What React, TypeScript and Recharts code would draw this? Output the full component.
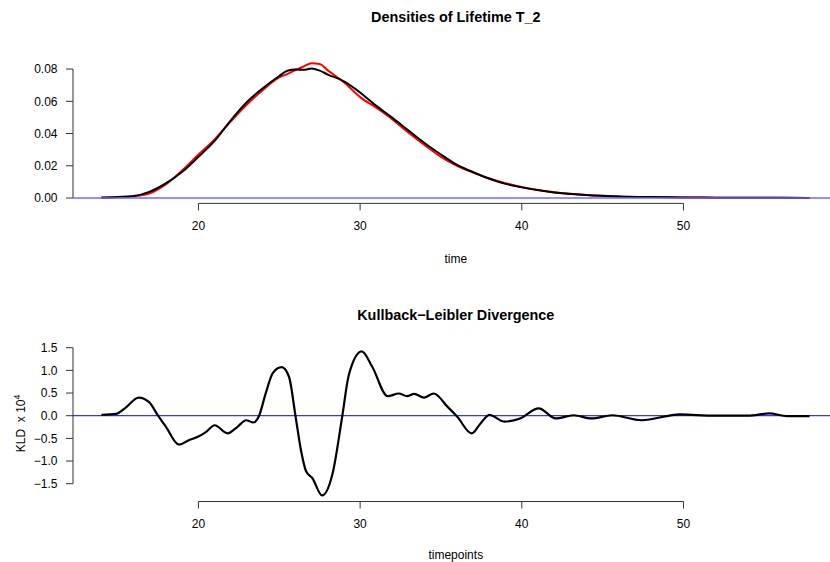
import React from 'react';
import { Line, LineChart, ReferenceLine, XAxis, YAxis } from 'recharts';

// density panel
const timeGrid = [14, 15, 16, 17, 18, 19, 20, 21, 22, 23, 24, 25, 25.5, 26, 26.5, 27, 27.5, 28, 29, 30, 31, 32, 33, 34, 35, 36, 37, 38, 39, 40, 42, 44, 46, 48, 50, 52, 54, 56, 57.8];
const redDensity = [0.0002, 0.0005, 0.0011, 0.003, 0.0086, 0.0172, 0.027, 0.0364, 0.0476, 0.058, 0.0672, 0.0748, 0.0769, 0.0794, 0.0816, 0.0836, 0.0832, 0.0792, 0.0718, 0.0626, 0.056, 0.0488, 0.0405, 0.0328, 0.0255, 0.02, 0.0158, 0.0121, 0.0092, 0.0068, 0.0036, 0.0019, 0.001, 0.0006, 0.0004, 0.0002, 0.0001, 0.0001, 0.0];
const blackDensity = [0.0003, 0.0007, 0.0013, 0.004, 0.0092, 0.0163, 0.0256, 0.0354, 0.0482, 0.0596, 0.0683, 0.0757, 0.079, 0.0797, 0.0795, 0.0803, 0.079, 0.0766, 0.0724, 0.0655, 0.0572, 0.0497, 0.0418, 0.034, 0.027, 0.0205, 0.016, 0.012, 0.0088, 0.0066, 0.0035, 0.0019, 0.001, 0.0006, 0.0004, 0.0002, 0.0001, 0.0001, 0.0];
const densityTicks = [0, 0.02, 0.04, 0.06, 0.08];

// KLD panel
const kldTime = [14, 14.9, 15.5, 16.3, 16.95, 17.5, 18, 18.8, 19.4, 20, 20.5, 21, 21.8, 22.4, 22.95, 23.4, 23.75, 24.15, 24.6, 25.15, 25.6, 26, 26.35, 26.65, 27.05, 27.65, 28.3, 28.9, 29.3, 30.1, 30.75, 31.7, 32.4, 32.9, 33.35, 33.95, 34.55, 35.4, 36, 36.9, 37.45, 38, 38.9, 39.9, 41.05, 42.1, 43.2, 44.3, 45.6, 47.4, 49.8, 51.9, 54, 55.3, 56.4, 57.8];
const kldValues = [0.02, 0.04, 0.18, 0.4, 0.3, 0.0, -0.25, -0.64, -0.54, -0.46, -0.35, -0.21, -0.39, -0.25, -0.1, -0.15, 0.0, 0.48, 0.94, 1.07, 0.86, 0.0, -0.78, -1.22, -1.38, -1.76, -1.27, 0.0, 0.9, 1.42, 1.08, 0.43, 0.49, 0.43, 0.48, 0.4, 0.49, 0.2, -0.02, -0.39, -0.17, 0.02, -0.13, -0.06, 0.16, -0.06, 0.01, -0.06, 0.01, -0.1, 0.03, 0.0, 0.0, 0.05, -0.01, -0.01];
const kldTicks = [-1.5, -1, -0.5, 0, 0.5, 1, 1.5];

const xTicks = [20, 30, 40, 50];
const xDomain: [number, number] = [12.24, 59.56];
const densDomain: [number, number] = [-0.00333, 0.08667];
const kldDomain: [number, number] = [-1.893, 1.558];

const densityData = timeGrid.map((t, i) => ({ t, red: redDensity[i], black: blackDensity[i] }));
const kldData = kldTime.map((t, i) => ({ t, kld: kldValues[i] }));

const FONT = 'Liberation Sans, Arial, Helvetica, sans-serif';
const tick = { fill: '#000', fontSize: 12, fontFamily: FONT };
const W = 845;
const H = 281;

const App = () => {
    return (
        <div style={{ position: 'absolute', left: 0, top: 0, width: 830, height: 562, overflow: 'hidden', background: '#fff' }}>
            <LineChart width={W} height={H} data={densityData} margin={{ top: 58.3, right: 7, bottom: 47.6, left: 0 }}>
                <XAxis type="number" dataKey="t" domain={xDomain} ticks={xTicks} allowDataOverflow axisLine={false}
                    tickSize={7} tickMargin={11} height={30} tick={tick} tickLine={{ stroke: '#333' }} />
                <YAxis type="number" domain={densDomain} ticks={densityTicks} allowDataOverflow axisLine={false} width={73}
                    tickSize={7} tickMargin={8.5} tick={tick} tickLine={{ stroke: '#333' }} tickFormatter={(v: number) => v.toFixed(2)} />
                <ReferenceLine segment={[{ x: 20, y: densDomain[0] }, { x: 50, y: densDomain[0] }]} stroke="#333" ifOverflow="visible" />
                <ReferenceLine segment={[{ x: xDomain[0], y: 0 }, { x: xDomain[0], y: 0.08 }]} stroke="#333" ifOverflow="visible" />
                <Line type="monotone" dataKey="red" stroke="#ff0000" strokeWidth={2} dot={false} isAnimationActive={false} />
                <Line type="monotone" dataKey="black" stroke="#000" strokeWidth={2} dot={false} isAnimationActive={false} />
                <ReferenceLine y={0} stroke="#6a6aff" strokeWidth={1.5} />
                <text x={455.8} y={21.7} textAnchor="middle" fontFamily={FONT} fontWeight="bold" fontSize={14.4} fill="#000">Densities of Lifetime T_2</text>
                <text x={455.8} y={263} textAnchor="middle" fontFamily={FONT} fontSize={12} fill="#000">time</text>
            </LineChart>
            <LineChart width={W} height={H} data={kldData} margin={{ top: 64.1, right: 7, bottom: 30.5, left: 0 }}>
                <XAxis type="number" dataKey="t" domain={xDomain} ticks={xTicks} allowDataOverflow axisLine={false}
                    tickSize={7} tickMargin={11} height={30} tick={tick} tickLine={{ stroke: '#333' }} />
                <YAxis type="number" domain={kldDomain} ticks={kldTicks} allowDataOverflow axisLine={false} width={73}
                    tickSize={7} tickMargin={8.5} tick={tick} tickLine={{ stroke: '#333' }}
                    tickFormatter={(v: number) => v.toFixed(1).replace('-', '\u2212')} />
                <ReferenceLine segment={[{ x: 20, y: kldDomain[0] }, { x: 50, y: kldDomain[0] }]} stroke="#333" ifOverflow="visible" />
                <ReferenceLine segment={[{ x: xDomain[0], y: -1.5 }, { x: xDomain[0], y: 1.5 }]} stroke="#333" ifOverflow="visible" />
                <ReferenceLine y={0} stroke="#0000ee" strokeWidth={1} />
                <Line type="monotone" dataKey="kld" stroke="#000" strokeWidth={2.2} dot={false} isAnimationActive={false} />
                <text x={455.8} y={39} textAnchor="middle" fontFamily={FONT} fontWeight="bold" fontSize={14.4} fill="#000">Kullback−Leibler Divergence</text>
                <text x={455.8} y={277.5} textAnchor="middle" fontFamily={FONT} fontSize={12} fill="#000">timepoints</text>
                <text x={25} y={142.3} transform="rotate(-90, 25, 142.3)" textAnchor="middle" fontFamily={FONT} fontSize={12} fill="#000" style={{ whiteSpace: 'pre' }}>
                    <tspan>KLD  x 10</tspan>
                    <tspan dy={-5} fontSize={9}>4</tspan>
                </text>
            </LineChart>
        </div>
    );
};

export default App;
